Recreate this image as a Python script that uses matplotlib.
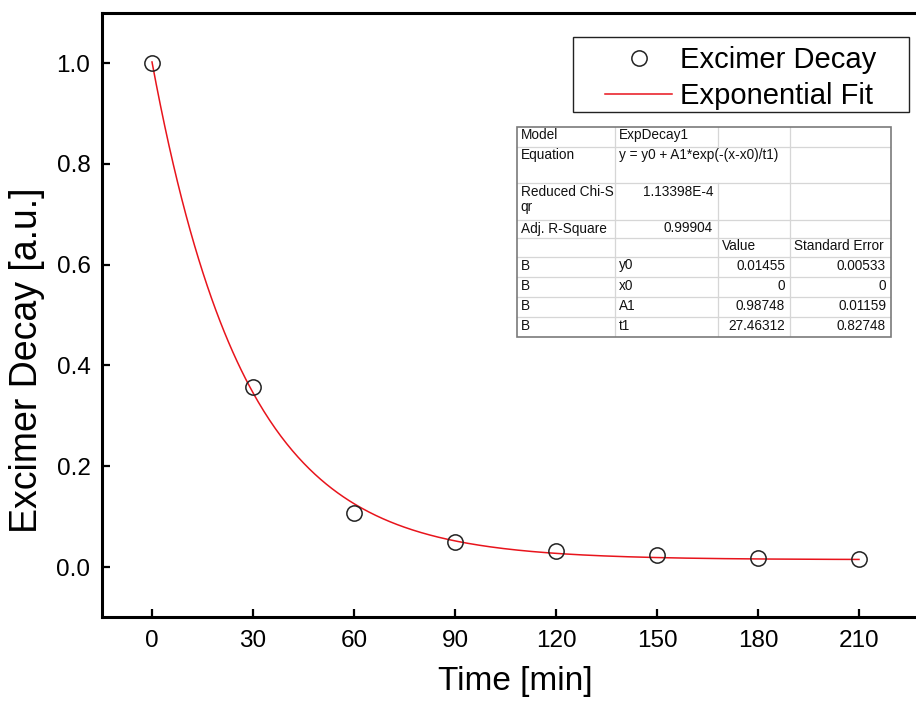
import numpy as np
import matplotlib
matplotlib.use("Agg")
import matplotlib.pyplot as plt

plt.rcParams["font.family"] = ["Liberation Sans", "DejaVu Sans"]

# measured decay points
time_min = [0, 30, 60, 90, 120, 150, 180, 210]
decay = [1.0, 0.358, 0.107, 0.050, 0.032, 0.023, 0.018, 0.016]

# ExpDecay1 fit parameters (from the fit report)
fit_y0 = 0.01455
fit_x0 = 0.0
fit_a1 = 0.98748
fit_t1 = 27.46312

x_ticks = [0, 30, 60, 90, 120, 150, 180, 210]
y_ticks = [0.0, 0.2, 0.4, 0.6, 0.8, 1.0]

# fit report table
report_rows = [
    ["Model", "ExpDecay1", "", ""],
    ["Equation", "y = y0 + A1*exp(-(x-x0)/t1)", "", ""],
    ["Reduced Chi-S\nqr", "1.13398E-4", "", ""],
    ["Adj. R-Square", "0.99904", "", ""],
    ["", "", "Value", "Standard Error"],
    ["B", "y0", "0.01455", "0.00533"],
    ["B", "x0", "0", "0"],
    ["B", "A1", "0.98748", "0.01159"],
    ["B", "t1", "27.46312", "0.82748"],
]
# which cells are right aligned
right_cells = {(2, 1), (3, 1), (5, 2), (5, 3), (6, 2), (6, 3), (7, 2), (7, 3), (8, 2), (8, 3)}

W, H = 916, 702
fig = plt.figure(figsize=(W / 100, H / 100), dpi=100)

# axes placement in pixels
ax_left, ax_top, ax_bottom = 101.5, 12.6, 617.4
xmin, xmax = -15, 231
px_per_x = 707 / 210
ax_width = (xmax - xmin) * px_per_x
ax_height = ax_bottom - ax_top
ax = fig.add_axes([ax_left / W, 1 - ax_bottom / H, ax_width / W, ax_height / H])

xs = np.linspace(0, 210, 500)
fit_curve = fit_y0 + fit_a1 * np.exp(-(xs - fit_x0) / fit_t1)

ax.plot(time_min, decay, linestyle="none", marker="o", markersize=11,
        markerfacecolor="none", markeredgecolor="#222222", markeredgewidth=1.1,
        label="Excimer Decay", zorder=3)
ax.plot(xs, fit_curve, color="#e8141c", linewidth=1.1, label="Exponential Fit", zorder=2)

ax.set_xlim(xmin, xmax)
ax.set_ylim(-0.1, 1.1)
ax.set_xticks(x_ticks)
ax.set_yticks(y_ticks)
ax.set_yticklabels([f"{v:.1f}" for v in y_ticks])
ax.tick_params(direction="in", length=6, width=1.6, labelsize=17.5, pad=8)
ax.tick_params(axis="x", pad=9)
for s in ax.spines.values():
    s.set_linewidth(2.2)

ax.set_xlabel("Time [min]", fontsize=24)
ax.set_ylabel("Excimer Decay [a.u.]", fontsize=27)
ax.xaxis.set_label_coords((515 - ax_left) / ax_width, -(666 - ax_bottom) / ax_height)
ax.yaxis.set_label_coords((45 - ax_left) / ax_width, (ax_bottom - 360) / ax_height)

# legend without its own frame, the box is drawn separately
leg = ax.legend(loc="upper left", bbox_to_anchor=(605 / W, 1 - 46 / H),
                bbox_transform=fig.transFigure, fontsize=21, frameon=False,
                handlelength=2.3, handletextpad=0.27, borderpad=0,
                labelspacing=0.27, borderaxespad=0)
fig.add_artist(plt.Rectangle((573 / W, 1 - 112 / H), (909 - 573) / W, 75 / H,
                             transform=fig.transFigure, facecolor="none",
                             edgecolor="#222222", lw=1.0))

# fit report table, drawn in its own pixel-coordinate axes
col_w = [98.3, 103, 72, 101]
row_h = [20, 36.6, 36.7, 18, 19, 20, 20, 20, 20]
tb_left, tb_top = 516.7, 126.7
tb_w, tb_h = sum(col_w), sum(row_h)
tax = fig.add_axes([tb_left / W, 1 - (tb_top + tb_h) / H, tb_w / W, tb_h / H])
tax.set_xlim(0, tb_w)
tax.set_ylim(tb_h, 0)
tax.axis("off")
tax.add_patch(plt.Rectangle((0, 0), tb_w, tb_h, facecolor="white", edgecolor="none", zorder=0))

col_x = np.concatenate([[0], np.cumsum(col_w)])
row_y = np.concatenate([[0], np.cumsum(row_h)])
grid_c = "#d6d6d6"
for y in row_y[1:-1]:
    tax.plot([0, tb_w], [y, y], color=grid_c, lw=0.9, zorder=1)
for j, x in enumerate(col_x[1:-1], start=1):
    for i in range(len(row_h)):
        if i == 1 and j == 2:
            continue  # equation text spans two columns
        tax.plot([x, x], [row_y[i], row_y[i + 1]], color=grid_c, lw=0.9, zorder=1)
tax.add_patch(plt.Rectangle((0, 0), tb_w, tb_h, facecolor="none",
                            edgecolor="#7a7a7a", lw=1.2, zorder=3, clip_on=False))

for i, row in enumerate(report_rows):
    for j, txt in enumerate(row):
        if not txt:
            continue
        if (i, j) in right_cells:
            tx, ha = col_x[j + 1] - 5, "right"
        else:
            tx, ha = col_x[j] + 4, "left"
        tax.text(tx, row_y[i] + 1.5, txt, ha=ha, va="top", fontsize=9.8,
                 color="#111111", linespacing=1.15, zorder=2)

fig.savefig("out.png", dpi=100)
